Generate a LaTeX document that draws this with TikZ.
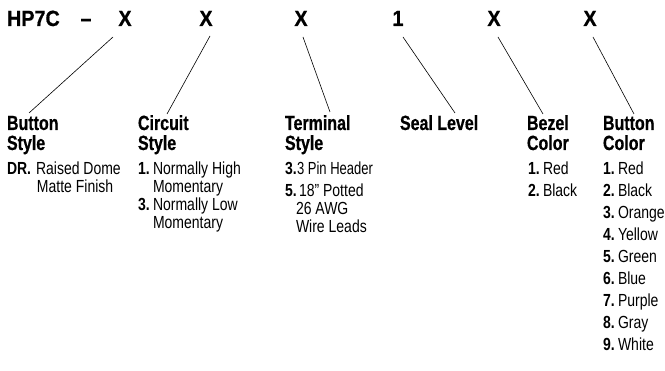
\documentclass[tikz,border=0pt]{standalone}
\usepackage{fontspec}
\newfontfamily\topf[FakeStretch=0.9,BoldFeatures={FakeBold=0.8}]{Liberation Sans}
\newfontfamily\cond[FakeStretch=0.78,BoldFeatures={FakeBold=0.6}]{Liberation Sans}
\newfontfamily\body[FakeStretch=0.8]{Liberation Sans}
\begin{document}
\begin{tikzpicture}[x=1pt,y=-1pt,
  every node/.style={inner sep=0pt,outer sep=0pt},
  topchar/.style={anchor=base,font=\topf\bfseries\fontsize{22}{23}\selectfont},
  head/.style={anchor=base west,font=\cond\bfseries\fontsize{20.5}{21}\selectfont},
  num/.style={anchor=base west,font=\body\bfseries\fontsize{17.5}{18}\selectfont},
  txt/.style={anchor=base west,font=\body\fontsize{17.5}{18}\selectfont},
  lead/.style={line width=0.6pt,black}]
\useasboundingbox (0,0) rectangle (665,371);
% top row
\node[topchar,anchor=base west] (hp) at (7,26) {HP7C};
\node[topchar] (dash) at (86,26) {–};
\node[topchar] (x1) at (125,26) {X};
\node[topchar] (x2) at (206,26) {X};
\node[topchar] (x3) at (301,26) {X};
\node[topchar] (x4) at (398,26) {1};
\node[topchar] (x5) at (494,26) {X};
\node[topchar] (x6) at (590,26) {X};
% leader start/end coordinates
\coordinate (s1) at (113,37); \coordinate (e1) at (29,113);
\coordinate (s2) at (210,36); \coordinate (e2) at (167,114);
\coordinate (s3) at (303,37); \coordinate (e3) at (330,112);
\coordinate (s4) at (403,37); \coordinate (e4) at (455,113);
\coordinate (s5) at (498,37); \coordinate (e5) at (543,114);
\coordinate (s6) at (593,37); \coordinate (e6) at (634,114);
\draw[lead] (s1) -- (e1);
\draw[lead] (s2) -- (e2);
\draw[lead] (s3) -- (e3);
\draw[lead] (s4) -- (e4);
\draw[lead] (s5) -- (e5);
\draw[lead] (s6) -- (e6);
% headings
\node[head] (h1a) at (7,130) {Button};
\node[head] (h1b) at (7,150) {Style};
\node[head] (h2a) at (138,130) {Circuit};
\node[head] (h2b) at (138,150) {Style};
\node[head] (h3a) at (285,130) {Terminal};
\node[head] (h3b) at (285,150) {Style};
\node[head] (h4a) at (400,130) {Seal Level};
\node[head] (h5a) at (527,130) {Bezel};
\node[head] (h5b) at (527,150) {Color};
\node[head] (h6a) at (603,130) {Button};
\node[head] (h6b) at (603,150) {Color};
% Button style
\node[num] (b1n) at (7,175) {DR.};
\node[txt] (b1t) at (36,175) {Raised Dome};
\node[txt] (b1c) at (37,193) {Matte Finish};
% Circuit style
\node[num] (c1n) at (138,175) {1.};
\node[txt] (c1t) at (153,175) {Normally High};
\node[txt] (c1c) at (153,193) {Momentary};
\node[num] (c3n) at (138,211) {3.};
\node[txt] (c3t) at (153,211) {Normally Low};
\node[txt] (c3c) at (153,229) {Momentary};
% Terminal style
\node[num] (t3n) at (285,175) {3.};
\node[txt,xscale=0.93] (t3t) at (297,175) {3 Pin Header};
\node[num] (t5n) at (285,197) {5.};
\node[txt] (t5t) at (299,197) {18” Potted};
\node[txt] (t5c) at (296,215) {26 AWG};
\node[txt] (t5d) at (296,233) {Wire Leads};
% Bezel color
\node[num] (z1n) at (528,175) {1.};
\node[txt] (z1t) at (543,175) {Red};
\node[num] (z2n) at (528,197) {2.};
\node[txt] (z2t) at (543,197) {Black};
% Button color
\node[num] (k1n) at (603,175) {1.}; \node[txt] (k1t) at (618,175) {Red};
\node[num] (k2n) at (603,197) {2.}; \node[txt] (k2t) at (618,197) {Black};
\node[num] (k3n) at (603,219) {3.}; \node[txt] (k3t) at (618,219) {Orange};
\node[num] (k4n) at (603,241) {4.}; \node[txt] (k4t) at (618,241) {Yellow};
\node[num] (k5n) at (603,263) {5.}; \node[txt] (k5t) at (618,263) {Green};
\node[num] (k6n) at (603,285) {6.}; \node[txt] (k6t) at (618,285) {Blue};
\node[num] (k7n) at (603,307) {7.}; \node[txt] (k7t) at (618,307) {Purple};
\node[num] (k8n) at (603,329) {8.}; \node[txt] (k8t) at (618,329) {Gray};
\node[num] (k9n) at (603,351) {9.}; \node[txt] (k9t) at (618,351) {White};
\end{tikzpicture}
\end{document}
